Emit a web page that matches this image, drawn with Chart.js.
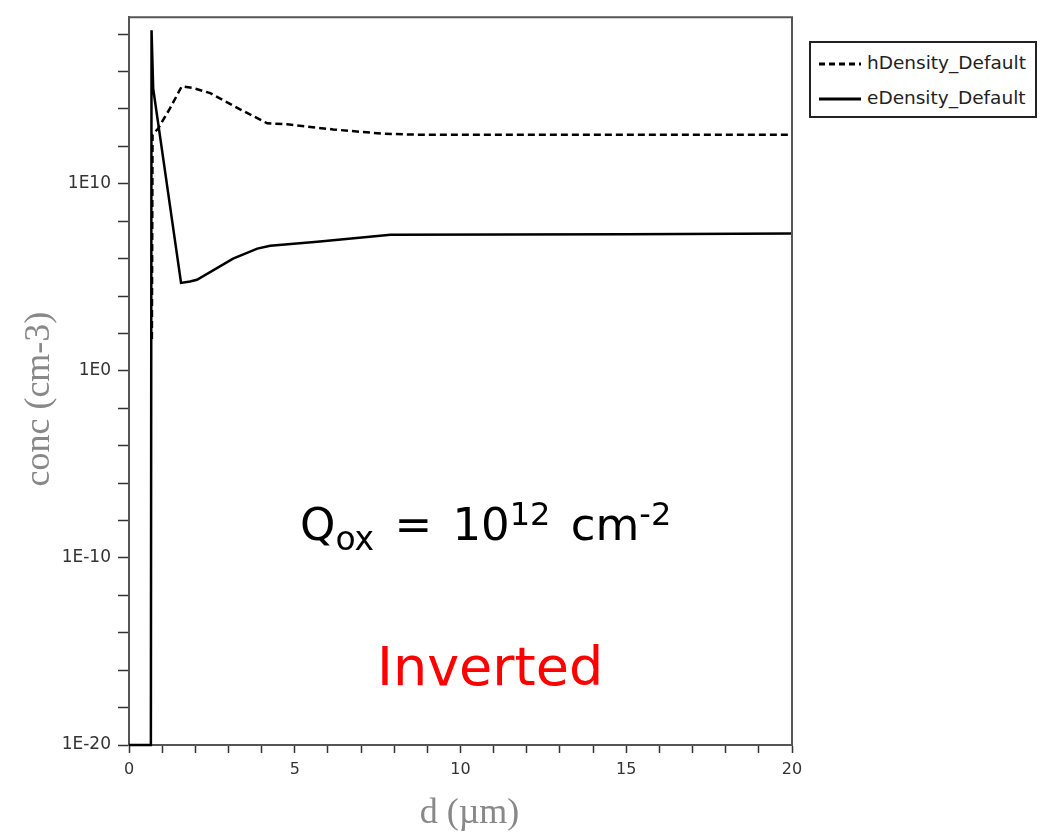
<!DOCTYPE html>
<html>
<head>
<meta charset="utf-8">
<script src="https://cdn.jsdelivr.net/npm/chart.js@4/dist/chart.umd.min.js"></script>
<style>
  body { margin: 0; background: #fff; }
  #wrap { position: relative; width: 1046px; height: 835px; }
  #legend {
    position: absolute; left: 809px; top: 41px; width: 228px; height: 77px;
    box-sizing: border-box; border: 2px solid #222; background: #fff;
    font-family: 'DejaVu Sans', Verdana, sans-serif; font-size: 18.5px; color: #222;
  }
  #legend .row { position: absolute; left: 8px; height: 22px; line-height: 22px; white-space: nowrap; }
  #legend svg { vertical-align: middle; margin-right: 6px; }
  .note { position: absolute; font-family: 'DejaVu Sans', Verdana, sans-serif; white-space: nowrap; }
  #qox { left: 300px; top: 503px; font-size: 45px; line-height: 44px; color: #000; word-spacing: 6px; }
  #qox .lo { font-size: 33px; position: relative; top: 10px; }
  #qox .hi { font-size: 32px; position: relative; top: -15px; }
  #inv { left: 377px; top: 640px; font-size: 54px; line-height: 54px; color: #ff0000; }
</style>
</head>
<body>
<div id="wrap">
  <canvas id="grafik" width="1046" height="835"></canvas>
  <div id="legend"></div>
  <div class="note" id="qox">Q<span class="lo">ox</span> = 10<span class="hi">12</span> cm<span class="hi">-2</span></div>
  <div class="note" id="inv">Inverted</div>
</div>
<script>
// data
var seriesNames = ['hDensity_Default', 'eDensity_Default'];

var hX = [0.69, 0.71, 0.88, 1.24, 1.59, 1.94, 2.45, 3.35, 4.17, 4.77, 6.16, 7.67, 8.7, 20];
var hY = [5e1, 4.2e12, 9e12, 1.1e14, 1.6e15, 1.3e15, 7e14, 9.5e13, 1.7e13, 1.5e13, 8e12, 4.7e12, 4.2e12, 4.2e12];

var eX = [0, 0.66, 0.68, 0.73, 1.57, 1.84, 2.05, 3.14, 3.87, 4.26, 5.68, 7.89, 15, 20];
var eY = [1e-20, 1e-20, 1.6e18, 1.2e15, 5e4, 6e4, 7.4e4, 1e6, 3.4e6, 4.8e6, 8e6, 1.9e7, 2e7, 2.2e7];

var xTickLabels = [0, 5, 10, 15, 20];
var yTicks = [1e-20, 1e-18, 1e-16, 1e-14, 1e-12, 1e-10, 1e-8, 1e-6, 1e-4, 1e-2, 1e0,
              1e2, 1e4, 1e6, 1e8, 1e10, 1e12, 1e14, 1e16, 1e18];
var yTickLabels = { '1e-20': '1E-20', '1e-10': '1E-10', '1': '1E0', '10000000000': '1E10' };

function toPoints(xs, ys) {
  return xs.map(function(x, i) { return { x: x, y: ys[i] }; });
}

// bingkai atas & kanan
var frame = {
  id: 'frame',
  afterDraw: function(chart) {
    var a = chart.chartArea, c = chart.ctx;
    c.save();
    c.strokeStyle = '#555';
    c.lineWidth = 2;
    c.beginPath();
    c.moveTo(a.left, a.top);
    c.lineTo(a.right, a.top);
    c.lineTo(a.right, a.bottom);
    c.stroke();
    c.restore();
  }
};

var ctx = document.getElementById('grafik').getContext('2d');
var chart = new Chart(ctx, {
  type: 'line',
  data: {
    datasets: [{
      label: seriesNames[0],
      data: toPoints(hX, hY),
      borderColor: '#000',
      borderWidth: 2.5,
      borderDash: [7, 4],
      pointRadius: 0,
      tension: 0,
      clip: false
    }, {
      label: seriesNames[1],
      data: toPoints(eX, eY),
      borderColor: '#000',
      borderWidth: 2.5,
      pointRadius: 0,
      tension: 0,
      clip: false
    }]
  },
  options: {
    responsive: false,
    animation: false,
    layout: { padding: { top: 14, right: 254, bottom: 0, left: 0 } },
    plugins: {
      legend: { display: false },
      tooltip: { enabled: false }
    },
    scales: {
      x: {
        type: 'linear',
        min: 0,
        max: 20,
        border: { color: '#555', width: 2 },
        grid: { drawOnChartArea: false, tickLength: 8, color: '#333', tickWidth: 1.5 },
        ticks: {
          stepSize: 1,
          autoSkip: false,
          maxRotation: 0,
          padding: 7,
          color: '#333',
          font: { family: 'DejaVu Sans', size: 16 },
          callback: function(v) { return xTickLabels.indexOf(v) >= 0 ? String(v) : ''; }
        },
        title: {
          display: true,
          text: '  d (µm)',
          color: '#888',
          font: { family: 'Liberation Serif', size: 36 },
          padding: { top: 0, bottom: 0 }
        },
        afterFit: function(scale) { scale.height = 90; }
      },
      y: {
        type: 'logarithmic',
        min: 1e-20,
        max: 8e18,
        border: { color: '#555', width: 2 },
        grid: { drawOnChartArea: false, tickLength: 11, color: '#333', tickWidth: 1.5 },
        ticks: {
          autoSkip: false,
          padding: 7,
          color: '#333',
          font: { family: 'DejaVu Sans', size: 17 },
          callback: function(v) { return yTickLabels[String(v)] || ''; }
        },
        afterBuildTicks: function(scale) {
          scale.ticks = yTicks.map(function(v) { return { value: v }; });
        },
        title: {
          display: true,
          text: 'conc (cm-3)    ',
          color: '#888',
          font: { family: 'Liberation Serif', size: 36 },
          padding: { top: 18, bottom: 0 }
        },
        afterFit: function(scale) { scale.width = 129; }
      }
    }
  },
  plugins: [frame]
});

// legend manual
var legendHtml = '';
chart.data.datasets.forEach(function(ds, i) {
  var dash = ds.borderDash ? 'stroke-dasharray="6,4"' : '';
  legendHtml += '<div class="row" style="top:' + (9 + i * 35) + 'px">' +
    '<svg width="42" height="8"><line x1="0" y1="4" x2="42" y2="4" stroke="#000" stroke-width="3" ' + dash + '/></svg>' +
    ds.label + '</div>';
});
document.getElementById('legend').innerHTML = legendHtml;
</script>
</body>
</html>
